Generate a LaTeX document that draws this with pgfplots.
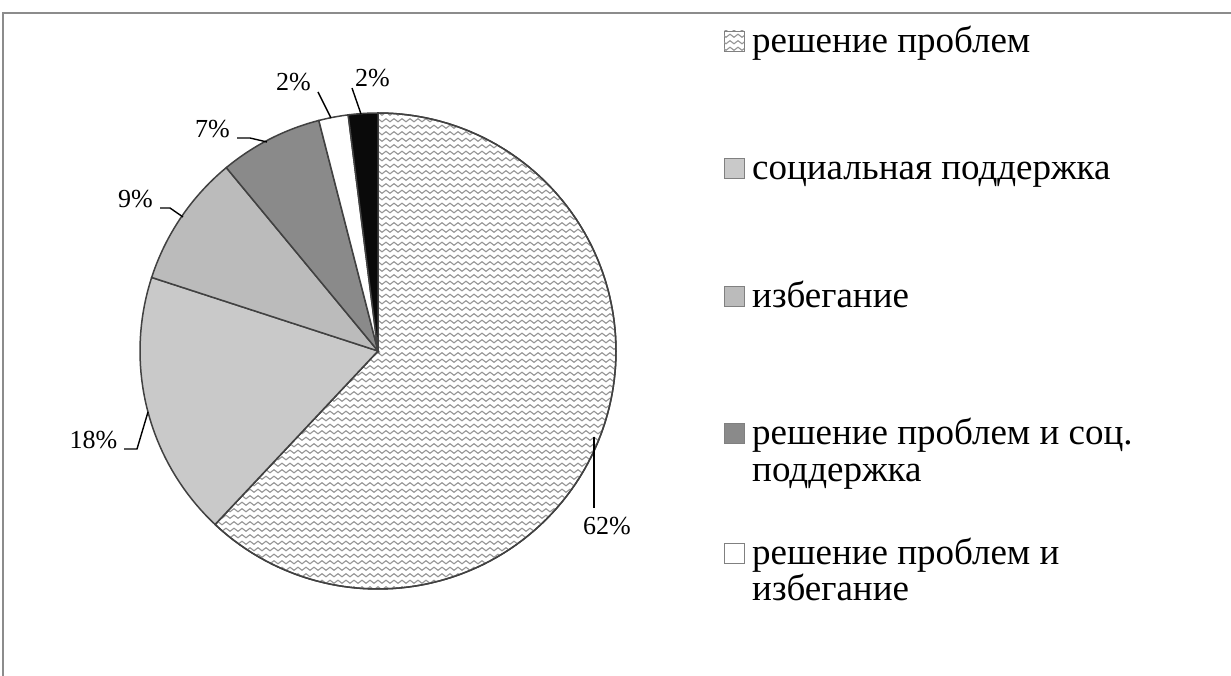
\documentclass[border=0pt]{standalone}
\usepackage{fontspec}
\setmainfont{Liberation Serif}
\usepackage{pgfplots}
\pgfplotsset{compat=1.18}
\usetikzlibrary{patterns}

\pgfdeclarepatternformonly{waves}{\pgfpoint{-1pt}{-1pt}}{\pgfpoint{9pt}{7.5pt}}{\pgfpoint{8pt}{6.5pt}}{%
  \pgfsetlinewidth{1.1pt}%
  \pgfpathmoveto{\pgfpoint{0pt}{3.25pt}}%
  \pgfpathcurveto{\pgfpoint{1.3pt}{5.3pt}}{\pgfpoint{2.7pt}{5.3pt}}{\pgfpoint{4pt}{3.25pt}}%
  \pgfpathcurveto{\pgfpoint{5.3pt}{1.2pt}}{\pgfpoint{6.7pt}{1.2pt}}{\pgfpoint{8pt}{3.25pt}}%
  \pgfusepath{stroke}}

\definecolor{slB}{RGB}{201,201,201}
\definecolor{slC}{RGB}{187,187,187}
\definecolor{slD}{RGB}{138,138,138}
\definecolor{slE}{RGB}{255,255,255}
\definecolor{slF}{RGB}{10,10,10}
\definecolor{edge}{RGB}{65,65,65}
\definecolor{framec}{RGB}{140,140,140}
\definecolor{wavec}{RGB}{150,150,150}

% values (percent), clockwise from 12 o'clock
\def\vA{62}\def\vB{18}\def\vC{9}\def\vD{7}\def\vE{2}\def\vF{2}

\pgfmathsetmacro{\aA}{90}
\pgfmathsetmacro{\aB}{\aA-3.6*\vA}
\pgfmathsetmacro{\aC}{\aB-3.6*\vB}
\pgfmathsetmacro{\aD}{\aC-3.6*\vC}
\pgfmathsetmacro{\aE}{\aD-3.6*\vD}
\pgfmathsetmacro{\aF}{\aE-3.6*\vE}
\pgfmathsetmacro{\aG}{\aF-3.6*\vF}

\def\cx{378}\def\cy{325}\def\rr{238}

\begin{document}
\begin{tikzpicture}
\begin{axis}[scale only axis, width=1231pt, height=676pt,
  xmin=0, xmax=1231, ymin=0, ymax=676, hide axis, clip=false]

% frame (top and left visible)
\draw[framec, line width=2pt] (axis cs:3,0) -- (axis cs:3,663) -- (axis cs:1231,663);

% slices
\addplot[fill=white, postaction={pattern=waves, pattern color=wavec}, draw=edge, line width=1.5pt,
  domain=\aB:\aA, samples=120, variable=\t]
  ({\cx+\rr*cos(\t)}, {\cy+\rr*sin(\t)}) -- (axis cs:\cx,\cy) -- cycle;
\addplot[fill=slB, draw=edge, line width=1.5pt, domain=\aC:\aB, samples=40, variable=\t]
  ({\cx+\rr*cos(\t)}, {\cy+\rr*sin(\t)}) -- (axis cs:\cx,\cy) -- cycle;
\addplot[fill=slC, draw=edge, line width=1.5pt, domain=\aD:\aC, samples=30, variable=\t]
  ({\cx+\rr*cos(\t)}, {\cy+\rr*sin(\t)}) -- (axis cs:\cx,\cy) -- cycle;
\addplot[fill=slD, draw=edge, line width=1.5pt, domain=\aE:\aD, samples=30, variable=\t]
  ({\cx+\rr*cos(\t)}, {\cy+\rr*sin(\t)}) -- (axis cs:\cx,\cy) -- cycle;
\addplot[fill=slE, draw=edge, line width=1.5pt, domain=\aF:\aE, samples=10, variable=\t]
  ({\cx+\rr*cos(\t)}, {\cy+\rr*sin(\t)}) -- (axis cs:\cx,\cy) -- cycle;
\addplot[fill=slF, draw=edge, line width=1.5pt, domain=\aG:\aF, samples=10, variable=\t]
  ({\cx+\rr*cos(\t)}, {\cy+\rr*sin(\t)}) -- (axis cs:\cx,\cy) -- cycle;

% leader lines
\draw[black, line width=1.4pt] (axis cs:594,239) -- (axis cs:594,168);
\draw[black, line width=1.4pt] (axis cs:124,227) -- (axis cs:137,227) -- (axis cs:148,264);
\draw[black, line width=1.4pt] (axis cs:160,468) -- (axis cs:170,468) -- (axis cs:183,459);
\draw[black, line width=1.4pt] (axis cs:237,538) -- (axis cs:250,538) -- (axis cs:267,534);
\draw[black, line width=1.4pt] (axis cs:318,584) -- (axis cs:331,558);
\draw[black, line width=1.4pt] (axis cs:352,588) -- (axis cs:361,562);

% data labels
\begin{scope}[every node/.style={font=\fontsize{26}{30}\selectfont, anchor=base, inner sep=0pt}]
\node at (axis cs:607,141) {62\%};
\node at (axis cs:93.5,227) {18\%};
\node at (axis cs:135.5,468) {9\%};
\node at (axis cs:212.5,538) {7\%};
\node at (axis cs:293.5,585) {2\%};
\node at (axis cs:372.5,589) {2\%};
\end{scope}

% legend
\begin{scope}[every node/.style={font=\fontsize{37}{38}\selectfont, anchor=base west, inner sep=0pt}]
\filldraw[fill=white, draw=gray, line width=0.9pt, postaction={pattern=waves, pattern color=wavec}] (axis cs:724,625) rectangle (axis cs:744,645);
\node at (axis cs:752,623) {решение проблем};
\filldraw[fill=slB, draw=gray, line width=0.9pt] (axis cs:724,498) rectangle (axis cs:744,518);
\node at (axis cs:752,496) {социальная поддержка};
\filldraw[fill=slC, draw=gray, line width=0.9pt] (axis cs:724,370) rectangle (axis cs:744,390);
\node at (axis cs:752,368) {избегание};
\filldraw[fill=slD, draw=gray, line width=0.9pt] (axis cs:724,233) rectangle (axis cs:744,253);
\node at (axis cs:752,231) {решение проблем и соц.};
\node at (axis cs:752,194) {поддержка};
\filldraw[fill=slE, draw=gray, line width=0.9pt] (axis cs:724,113) rectangle (axis cs:744,133);
\node at (axis cs:752,111) {решение проблем и};
\node at (axis cs:752,75) {избегание};
\end{scope}
\end{axis}
\pgfresetboundingbox
\path[use as bounding box] (current axis.south west) rectangle (current axis.north east);
\end{tikzpicture}
\end{document}
